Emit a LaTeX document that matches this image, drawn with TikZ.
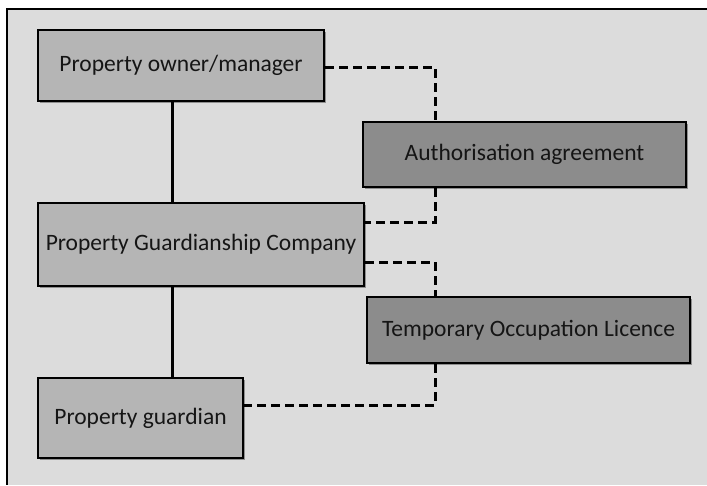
\documentclass[tikz,border=0pt]{standalone}
\usepackage{fontspec}
\setmainfont{Carlito}
\usetikzlibrary{shadows}
\definecolor{bggray}{HTML}{DCDCDC}
\definecolor{lightbox}{HTML}{B5B5B5}
\definecolor{darkbox}{HTML}{8C8C8C}
\definecolor{txt}{HTML}{151515}
\tikzset{
  box/.style={draw=black, line width=2.5pt, inner sep=0pt, font=\fontsize{23.5}{27}\selectfont, text=txt,
    drop shadow={shadow xshift=1.5pt, shadow yshift=-1.5pt, opacity=0.35, fill=black}},
  partybox/.style={box, fill=lightbox},
  docbox/.style={box, fill=darkbox},
  solidlink/.style={line width=3pt, draw=black},
  dashlink/.style={line width=3pt, draw=black, dash pattern=on 8.5pt off 5.5pt},
}
\begin{document}
\begin{tikzpicture}[x=1pt,y=-1pt]
\useasboundingbox (0,0) rectangle (707,485);
\fill[bggray] (7,9) rectangle (707,485);
\draw[line width=2.8pt] (707,9) -- (7,9) -- (7,485);

\node[partybox, minimum width=286pt, minimum height=71pt] (owner) at (181,65.5) {Property owner/manager};
\node[docbox, minimum width=323pt, minimum height=65pt] (auth) at (524.5,154.5) {Authorisation agreement};
\node[partybox, minimum width=326pt, minimum height=83pt] (pgc) at (201,244.5) {Property Guardianship Company};
\node[docbox, minimum width=323pt, minimum height=66pt] (tol) at (528.5,330) {Temporary Occupation Licence};
\node[partybox, minimum width=205pt, minimum height=80pt] (guard) at (140.5,418) {Property guardian};

\coordinate (trunk) at (172,0);
\coordinate (dx) at (435,0);
\coordinate (y1) at (0,67);
\coordinate (y2) at (0,222);
\coordinate (y3) at (0,262);
\coordinate (y4) at (0,405);

\draw[solidlink] (owner.south -| trunk) -- (pgc.north -| trunk);
\draw[solidlink] (pgc.south -| trunk) -- (guard.north -| trunk);
\draw[dashlink] (owner.east |- y1) -- (dx |- y1) -- (auth.north -| dx);
\draw[dashlink] (auth.south -| dx) -- (dx |- y2) -- (pgc.east |- y2);
\draw[dashlink] (pgc.east |- y3) -- (dx |- y3) -- (tol.north -| dx);
\draw[dashlink] (tol.south -| dx) -- (dx |- y4) -- (guard.east |- y4);
\end{tikzpicture}
\end{document}
